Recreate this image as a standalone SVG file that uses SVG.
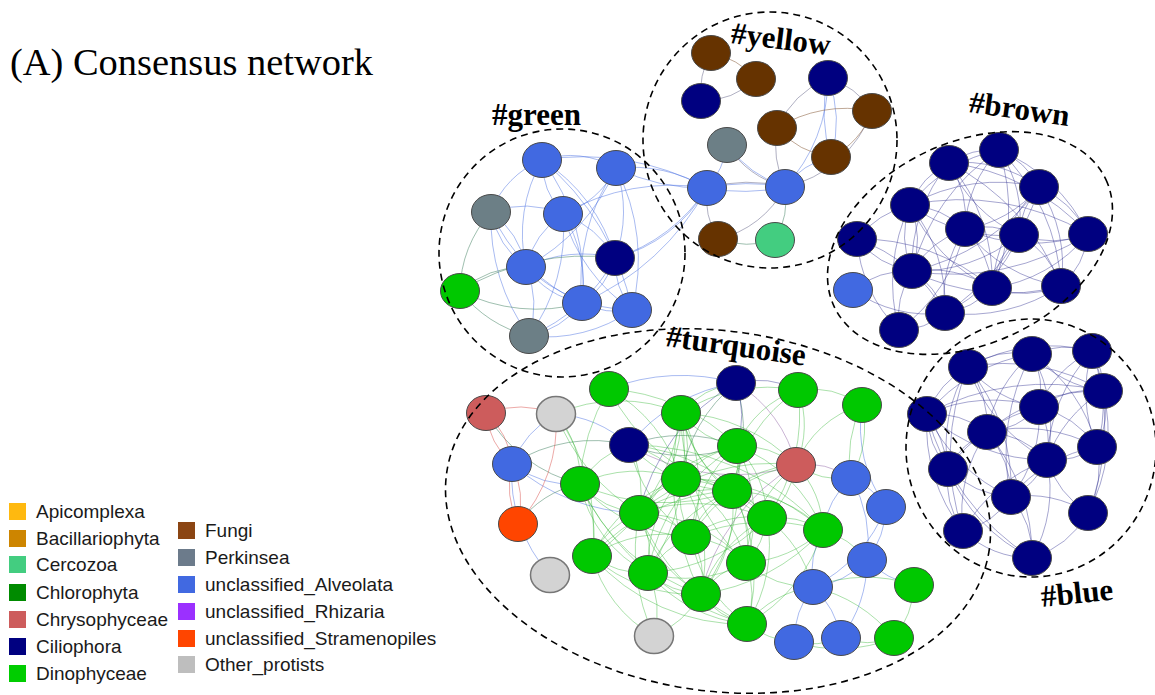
<svg xmlns="http://www.w3.org/2000/svg" width="1155" height="695" viewBox="0 0 1155 695">
<style>
.bg{fill:#fff}
ellipse.n{rx:19.5px;ry:17.5px;stroke:#4a4a4a;stroke-width:1}
.A{fill:#4169E1}.C{fill:#000080}.D{fill:#00C800}.F{fill:#663300}.P{fill:#6C7F86}.Cz{fill:#43CD80}.Ch{fill:#CD5C5C}.St{fill:#FF4500}.O{fill:#D3D3D3;stroke:#777 !important;stroke-width:1.5 !important}
#connectors{fill:none;stroke-width:1}
.eb{stroke:#4169E1;stroke-opacity:.45}
.en{stroke:#2b2b8f;stroke-opacity:.42}
.eg{stroke:#22b022;stroke-opacity:.38}
.ex{stroke:#3f7f5f;stroke-opacity:.5}
.er{stroke:#d9534f;stroke-opacity:.5}
.ew{stroke:#8a6040;stroke-opacity:.55}
.ey{stroke:#707090;stroke-opacity:.55}
.ep{stroke:#8a5aa0;stroke-opacity:.45}
.hull{fill:none;stroke:#000;stroke-width:1.6;stroke-dasharray:7 5}
.lab{font-family:"Liberation Serif","Times New Roman",serif;font-weight:bold;font-size:31px;fill:#000}
.title{font-family:"Liberation Serif","Times New Roman",serif;font-size:37px;fill:#000}
.leg{font-family:"Liberation Sans",Arial,sans-serif;font-size:19px;fill:#1a1a1a}
</style>
<rect class="bg" x="0" y="0" width="1155" height="695"/>
<text class="title" x="10" y="75" textLength="363" lengthAdjust="spacingAndGlyphs">(A) Consensus network</text>

<g id="connectors">
<g class="eb">
<path d="M542 160A90 90 0 0 1 616 168"/><path d="M542 160A80 80 0 0 0 563 214"/><path d="M542 160A90 90 0 0 0 491 212"/><path d="M542 160A150 150 0 0 0 526 267"/><path d="M542 160A200 200 0 0 1 582 303"/><path d="M542 160A170 170 0 0 1 615 258"/><path d="M542 160A260 260 0 0 1 707 188"/><path d="M542 160A260 260 0 0 1 632 310"/>
<path d="M616 168A90 90 0 0 1 563 214"/><path d="M616 168A130 130 0 0 1 615 258"/><path d="M616 168A200 200 0 0 1 632 310"/><path d="M616 168A150 150 0 0 1 707 188"/><path d="M616 168A200 200 0 0 0 707 188"/><path d="M616 168A200 200 0 0 0 582 303"/><path d="M616 168A200 200 0 0 1 526 267"/>
<path d="M491 212A100 100 0 0 1 563 214"/><path d="M491 212A90 90 0 0 1 526 267"/><path d="M491 212A90 90 0 0 0 526 267"/><path d="M491 212A180 180 0 0 0 582 303"/><path d="M491 212A200 200 0 0 0 529 336"/>
<path d="M563 214A100 100 0 0 1 615 258"/><path d="M563 214A90 90 0 0 0 526 267"/><path d="M563 214A130 130 0 0 1 582 303"/><path d="M563 214A170 170 0 0 0 632 310"/><path d="M563 214A180 180 0 0 1 529 336"/>
<path d="M615 258A130 130 0 0 0 526 267"/><path d="M615 258A80 80 0 0 1 582 303"/><path d="M615 258A80 80 0 0 0 632 310"/><path d="M615 258A150 150 0 0 0 707 188"/><path d="M615 258A170 170 0 0 0 707 188"/><path d="M615 258A170 170 0 0 1 529 336"/>
<path d="M526 267A90 90 0 0 0 582 303"/><path d="M526 267A160 160 0 0 0 632 310"/><path d="M526 267A100 100 0 0 1 529 336"/>
<path d="M582 303A80 80 0 0 0 632 310"/><path d="M582 303A90 90 0 0 1 529 336"/><path d="M632 310A150 150 0 0 1 529 336"/><path d="M582 303A260 260 0 0 0 707 188"/><path d="M563 214A220 220 0 0 1 707 188"/>
<path d="M828 78A120 120 0 0 1 831 157"/><path d="M828 78A150 150 0 0 0 831 157"/><path d="M828 78A160 160 0 0 1 785 187"/><path d="M727 145A80 80 0 0 1 707 188"/><path d="M707 188A200 200 0 0 1 785 187"/><path d="M707 188A200 200 0 0 0 785 187"/><path d="M727 145A120 120 0 0 0 785 187"/><path d="M831 157A80 80 0 0 0 785 187"/>
<path d="M736 383A170 170 0 0 0 629 445"/><path d="M556 414A100 100 0 0 0 512 464"/><path d="M556 414A120 120 0 0 1 629 445"/><path d="M512 464A100 100 0 0 0 580 484"/><path d="M512 464A150 150 0 0 0 550 575"/><path d="M512 464A200 200 0 0 0 639 513"/><path d="M736 383A200 200 0 0 0 609 389"/>
<path d="M862 405A140 140 0 0 0 886 507"/><path d="M851 478A80 80 0 0 1 886 507"/><path d="M886 507A90 90 0 0 1 867 560"/><path d="M886 507A150 150 0 0 1 813 587"/><path d="M867 560A90 90 0 0 1 813 587"/><path d="M813 587A90 90 0 0 0 794 642"/><path d="M813 587A90 90 0 0 1 841 638"/><path d="M867 560A130 130 0 0 1 841 638"/><path d="M823 530A90 90 0 0 0 813 587"/><path d="M823 530A90 90 0 0 1 851 478"/><path d="M851 478A130 130 0 0 1 867 560"/><path d="M867 560A90 90 0 0 0 914 585"/>
</g>
<g class="ex">
<path d="M491 212A120 120 0 0 0 460 291"/><path d="M526 267A100 100 0 0 0 460 291"/><path d="M460 291A170 170 0 0 0 582 303"/><path d="M460 291A240 240 0 0 1 615 258"/><path d="M460 291A130 130 0 0 0 529 336"/>
<path d="M486 413A150 150 0 0 0 580 484"/><path d="M518 524A100 100 0 0 1 580 484"/><path d="M512 464A150 150 0 0 1 629 445"/><path d="M775 240A90 90 0 0 1 718 239"/><path d="M785 187A80 80 0 0 1 775 240"/>
<path d="M629 445A150 150 0 0 1 737 446"/><path d="M629 445A150 150 0 0 0 737 446"/><path d="M736 383A150 150 0 0 0 681 479"/><path d="M736 383A160 160 0 0 1 732 491"/>
</g>
<g class="ey">
<path d="M711 53A80 80 0 0 0 701 101"/><path d="M756 79A80 80 0 0 1 701 101"/><path d="M828 78A100 100 0 0 0 777 128"/><path d="M828 78A80 80 0 0 1 872 111"/><path d="M777 128A100 100 0 0 0 785 187"/><path d="M707 188A80 80 0 0 0 718 239"/><path d="M785 187A100 100 0 0 1 718 239"/><path d="M785 187A120 120 0 0 0 872 111"/><path d="M727 145A100 100 0 0 0 785 187"/><path d="M707 188A150 150 0 0 1 785 187"/>
</g>
<g class="ew">
<path d="M711 53A80 80 0 0 1 756 79"/><path d="M777 128A130 130 0 0 1 872 111"/><path d="M777 128A90 90 0 0 0 831 157"/><path d="M872 111A80 80 0 0 1 831 157"/>
</g>
<g class="er">
<path d="M486 413A100 100 0 0 1 556 414"/><path d="M486 413A80 80 0 0 0 512 464"/><path d="M486 413A80 80 0 0 1 512 464"/><path d="M512 464A90 90 0 0 0 518 524"/><path d="M512 464A90 90 0 0 1 518 524"/><path d="M556 414A150 150 0 0 1 518 524"/>
</g>
<g class="ep">
<path d="M796 465A130 130 0 0 0 736 383"/><path d="M796 465A80 80 0 0 1 851 478"/><path d="M796 465A200 200 0 0 0 701 594"/><path d="M796 465A200 200 0 0 1 629 445"/>
</g>
<g class="en">
<path d="M949 163A80 80 0 0 1 999 150"/><path d="M949 163A130 130 0 0 1 1039 187"/><path d="M949 163A80 80 0 0 0 910 205"/><path d="M949 163A100 100 0 0 1 965 229"/><path d="M949 163A140 140 0 0 0 1019 235"/><path d="M949 163A160 160 0 0 0 912 271"/><path d="M949 163A180 180 0 0 1 992 288"/><path d="M949 163A230 230 0 0 1 1061 286"/><path d="M949 163A220 220 0 0 1 1088 234"/>
<path d="M999 150A80 80 0 0 1 1039 187"/><path d="M999 150A150 150 0 0 0 910 205"/><path d="M999 150A120 120 0 0 0 965 229"/><path d="M999 150A120 120 0 0 1 1019 235"/><path d="M999 150A170 170 0 0 1 1088 234"/><path d="M999 150A210 210 0 0 0 912 271"/><path d="M999 150A190 190 0 0 1 992 288"/><path d="M999 150A200 200 0 0 1 1061 286"/>
<path d="M1039 187A180 180 0 0 0 910 205"/><path d="M1039 187A120 120 0 0 1 965 229"/><path d="M1039 187A80 80 0 0 0 1019 235"/><path d="M1039 187A100 100 0 0 1 1088 234"/><path d="M1039 187A210 210 0 0 1 912 271"/><path d="M1039 187A160 160 0 0 0 992 288"/><path d="M1039 187A140 140 0 0 1 1061 286"/><path d="M1039 187A220 220 0 0 1 945 313"/>
<path d="M910 205A90 90 0 0 1 965 229"/><path d="M910 205A160 160 0 0 0 1019 235"/><path d="M910 205A250 250 0 0 1 1088 234"/><path d="M910 205A90 90 0 0 0 912 271"/><path d="M910 205A90 90 0 0 1 912 271"/><path d="M910 205A160 160 0 0 1 945 313"/><path d="M910 205A180 180 0 0 0 899 330"/><path d="M910 205A170 170 0 0 0 992 288"/>
<path d="M965 229A80 80 0 0 1 1019 235"/><path d="M965 229A170 170 0 0 0 1088 234"/><path d="M965 229A100 100 0 0 0 912 271"/><path d="M965 229A90 90 0 0 1 992 288"/><path d="M965 229A150 150 0 0 0 1061 286"/><path d="M965 229A120 120 0 0 0 945 313"/><path d="M965 229A170 170 0 0 1 899 330"/>
<path d="M1019 235A100 100 0 0 0 1088 234"/><path d="M1019 235A160 160 0 0 1 912 271"/><path d="M1019 235A90 90 0 0 0 992 288"/><path d="M1019 235A90 90 0 0 1 1061 286"/><path d="M1019 235A150 150 0 0 1 945 313"/>
<path d="M1088 234A80 80 0 0 1 1061 286"/><path d="M1088 234A150 150 0 0 1 992 288"/><path d="M1088 234A250 250 0 0 1 912 271"/>
<path d="M857 239A90 90 0 0 0 912 271"/><path d="M857 239A140 140 0 0 0 899 330"/><path d="M857 239A160 160 0 0 1 945 313"/><path d="M857 239A200 200 0 0 1 992 288"/><path d="M857 239A100 100 0 0 1 910 205"/>
<path d="M912 271A120 120 0 0 1 992 288"/><path d="M912 271A210 210 0 0 0 1061 286"/><path d="M912 271A80 80 0 0 1 945 313"/><path d="M912 271A90 90 0 0 0 899 330"/>
<path d="M992 288A100 100 0 0 0 1061 286"/><path d="M992 288A80 80 0 0 1 945 313"/><path d="M853 290A130 130 0 0 0 945 313"/><path d="M853 290A90 90 0 0 1 912 271"/><path d="M945 313A70 70 0 0 1 899 330"/><path d="M1061 286A170 170 0 0 1 945 313"/>
<path d="M968 367A90 90 0 0 1 1032 354"/><path d="M968 367A170 170 0 0 1 1092 351"/><path d="M968 367A120 120 0 0 0 1039 407"/><path d="M968 367A90 90 0 0 0 927 414"/><path d="M968 367A100 100 0 0 1 987 432"/><path d="M968 367A170 170 0 0 0 1047 460"/><path d="M968 367A150 150 0 0 0 948 469"/><path d="M968 367A190 190 0 0 1 1011 497"/><path d="M968 367A230 230 0 0 0 963 531"/><path d="M968 367A190 190 0 0 1 1103 391"/>
<path d="M1032 354A90 90 0 0 1 1092 351"/><path d="M1032 354A120 120 0 0 0 1103 391"/><path d="M1032 354A80 80 0 0 1 1039 407"/><path d="M1032 354A130 130 0 0 0 987 432"/><path d="M1032 354A150 150 0 0 1 1047 460"/><path d="M1032 354A200 200 0 0 0 1011 497"/><path d="M1032 354A160 160 0 0 1 1097 447"/><path d="M1032 354A170 170 0 0 0 927 414"/>
<path d="M1092 351A70 70 0 0 1 1103 391"/><path d="M1092 351A110 110 0 0 0 1039 407"/><path d="M1092 351A140 140 0 0 1 1097 447"/><path d="M1092 351A140 140 0 0 0 1097 447"/><path d="M1092 351A170 170 0 0 0 1047 460"/><path d="M1092 351A230 230 0 0 1 1088 513"/>
<path d="M1103 391A90 90 0 0 0 1039 407"/><path d="M1103 391A170 170 0 0 0 987 432"/><path d="M1103 391A80 80 0 0 1 1097 447"/><path d="M1103 391A130 130 0 0 0 1047 460"/><path d="M1103 391A170 170 0 0 1 1088 513"/><path d="M1103 391A250 250 0 0 0 927 414"/>
<path d="M1039 407A160 160 0 0 0 927 414"/><path d="M1039 407A80 80 0 0 1 987 432"/><path d="M1039 407A80 80 0 0 1 1047 460"/><path d="M1039 407A160 160 0 0 0 948 469"/><path d="M1039 407A130 130 0 0 1 1011 497"/><path d="M1039 407A100 100 0 0 1 1097 447"/>
<path d="M927 414A90 90 0 0 1 987 432"/><path d="M927 414A180 180 0 0 0 1047 460"/><path d="M927 414A90 90 0 0 0 948 469"/><path d="M927 414A170 170 0 0 0 1011 497"/><path d="M927 414A170 170 0 0 0 963 531"/><path d="M927 414A240 240 0 0 0 1032 558"/><path d="M927 414A120 120 0 0 1 948 469"/>
<path d="M987 432A90 90 0 0 1 1047 460"/><path d="M987 432A80 80 0 0 0 948 469"/><path d="M987 432A100 100 0 0 1 1011 497"/><path d="M987 432A140 140 0 0 0 963 531"/><path d="M987 432A160 160 0 0 1 1097 447"/><path d="M987 432A190 190 0 0 1 1032 558"/>
<path d="M1097 447A80 80 0 0 1 1047 460"/><path d="M1097 447A100 100 0 0 1 1088 513"/><path d="M1097 447A140 140 0 0 0 1011 497"/>
<path d="M1047 460A80 80 0 0 1 1011 497"/><path d="M1047 460A100 100 0 0 0 1088 513"/><path d="M1047 460A160 160 0 0 0 963 531"/><path d="M1047 460A140 140 0 0 1 1032 558"/>
<path d="M948 469A100 100 0 0 0 1011 497"/><path d="M948 469A90 90 0 0 0 963 531"/><path d="M948 469A170 170 0 0 0 1032 558"/><path d="M1011 497A80 80 0 0 1 963 531"/><path d="M1011 497A90 90 0 0 1 1032 558"/><path d="M1011 497A110 110 0 0 1 1088 513"/><path d="M1088 513A100 100 0 0 1 1032 558"/><path d="M963 531A100 100 0 0 0 1032 558"/>
<path d="M736 383A90 90 0 0 1 798 390"/><path d="M736 383A100 100 0 0 1 737 446"/><path d="M736 383A200 200 0 0 0 639 513"/>
</g>
<g class="eg">
<path d="M556 414A100 100 0 0 1 580 484"/><path d="M556 414A200 200 0 0 1 592 556"/><path d="M556 414A200 200 0 0 0 639 513"/>
<path d="M609 389A200 200 0 0 1 737 446"/><path d="M609 389A150 150 0 0 1 681 479"/><path d="M609 389A200 200 0 0 0 732 491"/>
<path d="M681 413A90 90 0 0 1 736 383"/><path d="M681 413A160 160 0 0 1 798 390"/><path d="M681 413A90 90 0 0 0 737 446"/><path d="M681 413A90 90 0 0 1 681 479"/><path d="M681 413A130 130 0 0 0 732 491"/><path d="M681 413A130 130 0 0 1 639 513"/><path d="M681 413A160 160 0 0 0 767 518"/><path d="M681 413A160 160 0 0 1 691 537"/><path d="M681 413A170 170 0 0 1 796 465"/><path d="M681 413A200 200 0 0 1 592 556"/><path d="M681 413A200 200 0 0 0 746 563"/><path d="M681 413A220 220 0 0 1 648 573"/><path d="M681 413A260 260 0 0 0 701 594"/>
<path d="M798 390A90 90 0 0 1 862 405"/><path d="M798 390A100 100 0 0 0 737 446"/><path d="M798 390A100 100 0 0 1 796 465"/><path d="M798 390A150 150 0 0 0 732 491"/><path d="M798 390A180 180 0 0 1 767 518"/><path d="M862 405A100 100 0 0 1 851 478"/><path d="M862 405A100 100 0 0 0 796 465"/><path d="M862 405A120 120 0 0 0 851 478"/>
<path d="M629 445A90 90 0 0 1 681 479"/><path d="M629 445A90 90 0 0 0 580 484"/><path d="M629 445A100 100 0 0 1 639 513"/><path d="M629 445A150 150 0 0 0 732 491"/><path d="M629 445A200 200 0 0 1 767 518"/><path d="M629 445A150 150 0 0 0 691 537"/><path d="M629 445A260 260 0 0 1 823 530"/>
<path d="M737 446A100 100 0 0 0 681 479"/><path d="M737 446A90 90 0 0 1 732 491"/><path d="M737 446A150 150 0 0 0 639 513"/><path d="M737 446A110 110 0 0 1 767 518"/><path d="M737 446A130 130 0 0 0 691 537"/><path d="M737 446A150 150 0 0 1 823 530"/><path d="M737 446A90 90 0 0 1 796 465"/><path d="M737 446A150 150 0 0 1 746 563"/><path d="M737 446A180 180 0 0 0 648 573"/><path d="M737 446A200 200 0 0 1 701 594"/>
<path d="M580 484A90 90 0 0 0 639 513"/><path d="M580 484A100 100 0 0 1 592 556"/><path d="M580 484A130 130 0 0 1 681 479"/><path d="M580 484A200 200 0 0 0 732 491"/><path d="M580 484A160 160 0 0 0 691 537"/><path d="M580 484A130 130 0 0 0 648 573"/><path d="M580 484A200 200 0 0 0 701 594"/><path d="M580 484A260 260 0 0 0 747 624"/>
<path d="M681 479A80 80 0 0 1 732 491"/><path d="M681 479A80 80 0 0 0 639 513"/><path d="M681 479A130 130 0 0 1 767 518"/><path d="M681 479A90 90 0 0 0 691 537"/><path d="M681 479A150 150 0 0 0 592 556"/><path d="M681 479A130 130 0 0 1 746 563"/><path d="M681 479A130 130 0 0 0 648 573"/><path d="M681 479A150 150 0 0 1 701 594"/><path d="M681 479A200 200 0 0 1 823 530"/>
<path d="M796 465A80 80 0 0 0 851 478"/><path d="M796 465A100 100 0 0 0 732 491"/><path d="M796 465A90 90 0 0 1 767 518"/><path d="M796 465A100 100 0 0 1 823 530"/><path d="M796 465A130 130 0 0 0 746 563"/><path d="M796 465A150 150 0 0 0 691 537"/><path d="M796 465A200 200 0 0 0 639 513"/>
<path d="M732 491A130 130 0 0 0 639 513"/><path d="M732 491A80 80 0 0 1 767 518"/><path d="M732 491A80 80 0 0 0 691 537"/><path d="M732 491A200 200 0 0 0 592 556"/><path d="M732 491A100 100 0 0 1 746 563"/><path d="M732 491A150 150 0 0 0 648 573"/><path d="M732 491A130 130 0 0 1 701 594"/><path d="M732 491A170 170 0 0 1 747 624"/><path d="M732 491A130 130 0 0 1 823 530"/>
<path d="M639 513A90 90 0 0 1 691 537"/><path d="M639 513A90 90 0 0 0 592 556"/><path d="M639 513A90 90 0 0 1 648 573"/><path d="M639 513A130 130 0 0 0 701 594"/><path d="M639 513A150 150 0 0 1 746 563"/><path d="M639 513A200 200 0 0 0 747 624"/><path d="M639 513A180 180 0 0 1 767 518"/>
<path d="M767 518A100 100 0 0 0 691 537"/><path d="M767 518A90 90 0 0 1 823 530"/><path d="M767 518A80 80 0 0 1 746 563"/><path d="M767 518A180 180 0 0 1 648 573"/><path d="M767 518A130 130 0 0 0 701 594"/><path d="M767 518A150 150 0 0 1 747 624"/><path d="M767 518A130 130 0 0 1 813 587"/>
<path d="M691 537A130 130 0 0 0 592 556"/><path d="M691 537A90 90 0 0 1 746 563"/><path d="M691 537A90 90 0 0 0 648 573"/><path d="M691 537A80 80 0 0 1 701 594"/><path d="M691 537A130 130 0 0 0 747 624"/><path d="M691 537A200 200 0 0 1 823 530"/>
<path d="M823 530A130 130 0 0 1 746 563"/><path d="M823 530A90 90 0 0 1 867 560"/><path d="M823 530A200 200 0 0 1 701 594"/><path d="M823 530A160 160 0 0 1 747 624"/>
<path d="M592 556A90 90 0 0 0 648 573"/><path d="M592 556A150 150 0 0 0 701 594"/><path d="M592 556A200 200 0 0 0 747 624"/><path d="M592 556A130 130 0 0 0 654 636"/>
<path d="M746 563A130 130 0 0 1 648 573"/><path d="M746 563A80 80 0 0 0 701 594"/><path d="M746 563A90 90 0 0 1 747 624"/><path d="M746 563A100 100 0 0 0 813 587"/>
<path d="M648 573A90 90 0 0 0 701 594"/><path d="M648 573A150 150 0 0 0 747 624"/><path d="M648 573A90 90 0 0 1 654 636"/><path d="M701 594A80 80 0 0 0 747 624"/><path d="M701 594A100 100 0 0 1 654 636"/><path d="M639 513A200 200 0 0 0 654 636"/>
<path d="M747 624A90 90 0 0 0 794 642"/><path d="M747 624A100 100 0 0 1 813 587"/>
<path d="M794 642A80 80 0 0 0 841 638"/><path d="M841 638A80 80 0 0 0 894 638"/><path d="M914 585A90 90 0 0 1 894 638"/><path d="M813 587A150 150 0 0 1 894 638"/><path d="M794 642A150 150 0 0 0 894 638"/><path d="M914 585A150 150 0 0 0 813 587"/><path d="M609 389A200 200 0 0 0 580 484"/><path d="M556 414A160 160 0 0 1 681 413"/>
</g>
</g>

<g id="nodes">
<g id="g1"><ellipse class="n A" cx="542" cy="160"/></g>
<g id="g2"><ellipse class="n A" cx="616" cy="168"/></g>
<g id="g3"><ellipse class="n P" cx="491" cy="212"/></g>
<g id="g4"><ellipse class="n A" cx="563" cy="214"/></g>
<g id="g5"><ellipse class="n C" cx="615" cy="258"/></g>
<g id="g6"><ellipse class="n A" cx="526" cy="267"/></g>
<g id="g7"><ellipse class="n D" cx="460" cy="291"/></g>
<g id="g8"><ellipse class="n A" cx="582" cy="303"/></g>
<g id="g9"><ellipse class="n A" cx="632" cy="310"/></g>
<g id="g10"><ellipse class="n P" cx="529" cy="336"/></g>

<g id="y1"><ellipse class="n F" cx="711" cy="53"/></g>
<g id="y2"><ellipse class="n F" cx="756" cy="79"/></g>
<g id="y3"><ellipse class="n C" cx="701" cy="101"/></g>
<g id="y4"><ellipse class="n C" cx="828" cy="78"/></g>
<g id="y5"><ellipse class="n F" cx="872" cy="111"/></g>
<g id="y6"><ellipse class="n F" cx="777" cy="128"/></g>
<g id="y7"><ellipse class="n P" cx="727" cy="145"/></g>
<g id="y8"><ellipse class="n F" cx="831" cy="157"/></g>
<g id="y9"><ellipse class="n A" cx="707" cy="188"/></g>
<g id="y10"><ellipse class="n A" cx="785" cy="187"/></g>
<g id="y11"><ellipse class="n F" cx="718" cy="239"/></g>
<g id="y12"><ellipse class="n Cz" cx="775" cy="240"/></g>

<g id="b1"><ellipse class="n C" cx="949" cy="163"/></g>
<g id="b2"><ellipse class="n C" cx="999" cy="150"/></g>
<g id="b3"><ellipse class="n C" cx="1039" cy="187"/></g>
<g id="b4"><ellipse class="n C" cx="910" cy="205"/></g>
<g id="b5"><ellipse class="n C" cx="965" cy="229"/></g>
<g id="b6"><ellipse class="n C" cx="1019" cy="235"/></g>
<g id="b7"><ellipse class="n C" cx="1088" cy="234"/></g>
<g id="b8"><ellipse class="n C" cx="857" cy="239"/></g>
<g id="b9"><ellipse class="n C" cx="912" cy="271"/></g>
<g id="b10"><ellipse class="n C" cx="992" cy="288"/></g>
<g id="b11"><ellipse class="n C" cx="1061" cy="286"/></g>
<g id="b12"><ellipse class="n A" cx="853" cy="290"/></g>
<g id="b13"><ellipse class="n C" cx="945" cy="313"/></g>
<g id="b14"><ellipse class="n C" cx="899" cy="330"/></g>

<g id="l1"><ellipse class="n C" cx="968" cy="367"/></g>
<g id="l2"><ellipse class="n C" cx="1032" cy="354"/></g>
<g id="l3"><ellipse class="n C" cx="1092" cy="351"/></g>
<g id="l4"><ellipse class="n C" cx="1103" cy="391"/></g>
<g id="l5"><ellipse class="n C" cx="1039" cy="407"/></g>
<g id="l6"><ellipse class="n C" cx="927" cy="414"/></g>
<g id="l7"><ellipse class="n C" cx="987" cy="432"/></g>
<g id="l8"><ellipse class="n C" cx="1097" cy="447"/></g>
<g id="l9"><ellipse class="n C" cx="1047" cy="460"/></g>
<g id="l10"><ellipse class="n C" cx="948" cy="469"/></g>
<g id="l11"><ellipse class="n C" cx="1011" cy="497"/></g>
<g id="l12"><ellipse class="n C" cx="1088" cy="513"/></g>
<g id="l13"><ellipse class="n C" cx="963" cy="531"/></g>
<g id="l14"><ellipse class="n C" cx="1032" cy="558"/></g>

<g id="t1"><ellipse class="n D" cx="609" cy="389"/></g>
<g id="t2"><ellipse class="n Ch" cx="486" cy="413"/></g>
<g id="t3"><ellipse class="n O" cx="556" cy="414"/></g>
<g id="t4"><ellipse class="n D" cx="681" cy="413"/></g>
<g id="t5"><ellipse class="n C" cx="736" cy="383"/></g>
<g id="t6"><ellipse class="n D" cx="798" cy="390"/></g>
<g id="t7"><ellipse class="n D" cx="862" cy="405"/></g>
<g id="t8"><ellipse class="n C" cx="629" cy="445"/></g>
<g id="t9"><ellipse class="n D" cx="737" cy="446"/></g>
<g id="t10"><ellipse class="n A" cx="512" cy="464"/></g>
<g id="t11"><ellipse class="n D" cx="580" cy="484"/></g>
<g id="t12"><ellipse class="n D" cx="681" cy="479"/></g>
<g id="t13"><ellipse class="n Ch" cx="796" cy="465"/></g>
<g id="t14"><ellipse class="n A" cx="851" cy="478"/></g>
<g id="t15"><ellipse class="n D" cx="732" cy="491"/></g>
<g id="t16"><ellipse class="n D" cx="639" cy="513"/></g>
<g id="t17"><ellipse class="n A" cx="886" cy="507"/></g>
<g id="t18"><ellipse class="n D" cx="767" cy="518"/></g>
<g id="t19"><ellipse class="n St" cx="518" cy="524"/></g>
<g id="t20"><ellipse class="n D" cx="691" cy="537"/></g>
<g id="t21"><ellipse class="n D" cx="823" cy="530"/></g>
<g id="t22"><ellipse class="n D" cx="592" cy="556"/></g>
<g id="t23"><ellipse class="n D" cx="746" cy="563"/></g>
<g id="t24"><ellipse class="n A" cx="867" cy="560"/></g>
<g id="t25"><ellipse class="n O" cx="550" cy="575"/></g>
<g id="t26"><ellipse class="n D" cx="648" cy="573"/></g>
<g id="t27"><ellipse class="n A" cx="813" cy="587"/></g>
<g id="t28"><ellipse class="n D" cx="914" cy="585"/></g>
<g id="t29"><ellipse class="n D" cx="701" cy="594"/></g>
<g id="t30"><ellipse class="n D" cx="747" cy="624"/></g>
<g id="t31"><ellipse class="n O" cx="654" cy="636"/></g>
<g id="t32"><ellipse class="n A" cx="794" cy="642"/></g>
<g id="t33"><ellipse class="n A" cx="841" cy="638"/></g>
<g id="t34"><ellipse class="n D" cx="894" cy="638"/></g>
</g>

<g id="modules">
<ellipse id="hull-green" class="hull" cx="562" cy="253" rx="123" ry="124"/>
<ellipse id="hull-yellow" class="hull" cx="770" cy="140" rx="127" ry="128"/>
<ellipse id="hull-brown" class="hull" cx="0" cy="0" rx="150" ry="101" transform="translate(970 243) rotate(-25)"/>
<ellipse id="hull-blue" class="hull" cx="1031" cy="448" rx="125" ry="129"/>
<ellipse id="hull-turquoise" class="hull" cx="0" cy="0" rx="274" ry="180" transform="translate(718 511) rotate(8)"/>
<text class="lab" x="492" y="125">#green</text>
<text class="lab" transform="translate(730 43) rotate(7)">#yellow</text>
<text class="lab" transform="translate(968 112) rotate(8)">#brown</text>
<text class="lab" transform="translate(665 346) rotate(8)">#turquoise</text>
<text class="lab" transform="translate(1042 607) rotate(-6)">#blue</text>
</g>

<g id="legend">
<rect x="9" y="503" width="17" height="17" fill="#FFB90F"/><text class="leg" x="36" y="518">Apicomplexa</text>
<rect x="9" y="530" width="17" height="17" fill="#CD8500"/><text class="leg" x="36" y="545">Bacillariophyta</text>
<rect x="9" y="556" width="17" height="17" fill="#43CD80"/><text class="leg" x="36" y="571">Cercozoa</text>
<rect x="9" y="584" width="17" height="17" fill="#008B00"/><text class="leg" x="36" y="599">Chlorophyta</text>
<rect x="9" y="611" width="17" height="17" fill="#CD5C5C"/><text class="leg" x="36" y="626">Chrysophyceae</text>
<rect x="9" y="638" width="17" height="17" fill="#000080"/><text class="leg" x="36" y="653">Ciliophora</text>
<rect x="9" y="665" width="17" height="17" fill="#00CD00"/><text class="leg" x="36" y="680">Dinophyceae</text>
<rect x="178" y="522" width="17" height="17" fill="#8B4513"/><text class="leg" x="205" y="537">Fungi</text>
<rect x="178" y="549" width="17" height="17" fill="#6C7B8B"/><text class="leg" x="205" y="564">Perkinsea</text>
<rect x="178" y="576" width="17" height="17" fill="#4169E1"/><text class="leg" x="205" y="591">unclassified_Alveolata</text>
<rect x="178" y="603" width="17" height="17" fill="#9B30FF"/><text class="leg" x="205" y="618">unclassified_Rhizaria</text>
<rect x="178" y="630" width="17" height="17" fill="#FF4500"/><text class="leg" x="205" y="645">unclassified_Stramenopiles</text>
<rect x="178" y="656" width="17" height="17" fill="#BEBEBE"/><text class="leg" x="205" y="671">Other_protists</text>
</g>
</svg>
